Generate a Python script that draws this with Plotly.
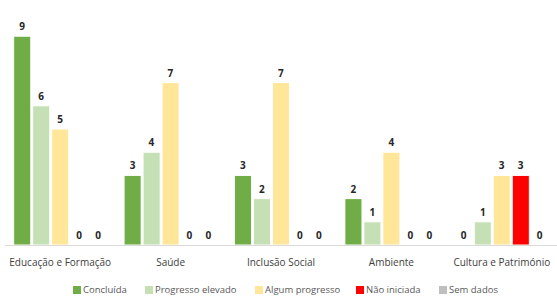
import plotly.graph_objects as go

categories = ["Educação e Formação", "Saúde", "Inclusão Social", "Ambiente", "Cultura e Património"]
series_names = ["Concluída", "Progresso elevado", "Algum progresso", "Não iniciada", "Sem dados"]
concluida = [9, 3, 3, 2, 0]
progresso_elevado = [6, 4, 2, 1, 1]
algum_progresso = [5, 7, 7, 4, 3]
nao_iniciada = [0, 0, 0, 0, 3]
sem_dados = [0, 0, 0, 0, 0]

colors = ["#70AD47", "#C5E0B4", "#FFE699", "#FF0000", "#BFBFBF"]
values = [concluida, progresso_elevado, algum_progresso, nao_iniciada, sem_dados]

W, H = 557, 297
ML, MR, MT, MB = 5, 0, 13, 52
PW, PH = W - ML - MR, H - MT - MB

fig = go.Figure()
for name, vals, col in zip(series_names, values, colors):
    fig.add_trace(go.Bar(
        x=categories, y=vals, name=name,
        marker=dict(color=col, line=dict(color="white", width=1)),
        text=[str(v) for v in vals], textposition="outside",
        textfont=dict(family="Open Sans", size=10, color="#262626", weight="bold"),
        cliponaxis=False, showlegend=False,
    ))

# custom legend (small squares close to text, like the original)
legend_px = [73, 145, 255, 356, 439]   # left edge of each legend square, in pixels
legend_py = 289                        # vertical centre of legend row, in pixels
sq = 8
def px2x(px):
    return (px - ML) / PW
def py2y(py):
    return (H - MB - py) / PH

for lx, name, col in zip(legend_px, series_names, colors):
    fig.add_shape(type="rect", xref="paper", yref="paper",
                  x0=px2x(lx), x1=px2x(lx + sq),
                  y0=py2y(legend_py + 1 + sq / 2), y1=py2y(legend_py + 1 - sq / 2),
                  fillcolor=col, line=dict(width=0))
    fig.add_annotation(xref="paper", yref="paper", x=px2x(lx + sq + 1), y=py2y(legend_py),
                       xanchor="left", yanchor="middle", text=name, showarrow=False,
                       borderpad=0,
                       font=dict(family="Open Sans", size=9.5, color="#595959"))

fig.update_layout(
    width=W, height=H,
    margin=dict(l=ML, r=MR, t=MT, b=MB, autoexpand=False),
    paper_bgcolor="white", plot_bgcolor="white",
    barmode="group", bargap=0.14, bargroupgap=0.1,
    font=dict(family="Open Sans"),
    xaxis=dict(showline=True, linecolor="#D9D9D9", linewidth=1, ticks="",
               automargin=False, ticklabelstandoff=8,
               tickfont=dict(family="Open Sans", size=10, color="#404040")),
    yaxis=dict(range=[0, 10], visible=False, showgrid=False, automargin=False),
)

fig.write_html("out.html", config={"displayModeBar": False},
               post_script="document.body.style.margin='0';")
